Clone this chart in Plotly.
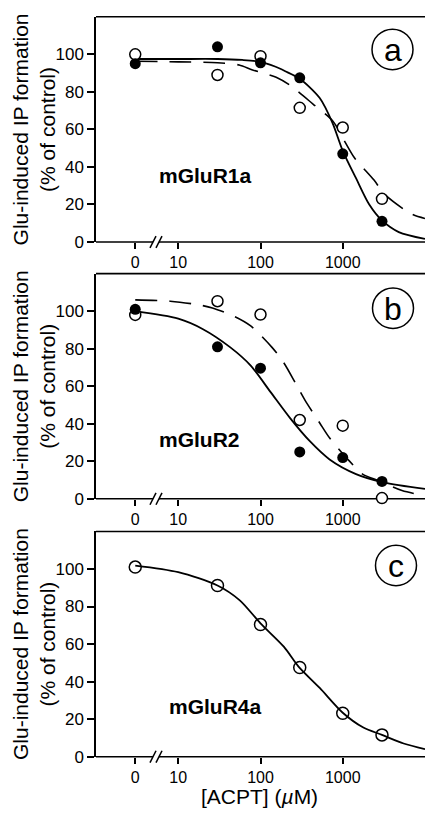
import plotly.graph_objects as go

# ---------------- data ----------------
# x positions (µM); the "0" control is plotted at the 3 µM position left of the axis break
conc = [3, 30, 100, 300, 1000, 3000]
x_tick_vals = [3, 10, 100, 1000]
x_tick_text = ["0", "10", "100", "1000"]
y_tick_vals = [0, 20, 40, 60, 80, 100]

a_filled = [95, 104, 95.5, 87.5, 47, 11]
a_open = [100, 89, 99, 71.5, 61, 23]
b_filled = [101, 81, 69.6, 25, 22, 9.3]
b_open = [98, 105.3, 98.2, 42, 39, 0.4]
c_open = [101, 91.2, 70.4, 47.5, 23.1, 11.6]

# fitted curves
a_solid_x = [3, 10, 30, 60, 100, 150, 200, 300, 525, 750, 1000, 1450, 2100, 3000, 4800, 10000]
a_solid_y = [97.5, 97.5, 97.5, 97, 96, 93.5, 91, 87, 76.7, 63.5, 48.6, 34, 20, 11.5, 5.3, 1.7]
a_dash_x = [3, 10, 30, 55, 80, 155, 225, 435, 760, 1050, 1380, 2400, 3200, 6800, 10000]
a_dash_y = [96.3, 96, 95.5, 94.3, 91.7, 87.8, 83.7, 73.5, 64.4, 53.8, 45, 33, 25.6, 15, 12.5]
b_solid_x = [3, 10, 20, 43, 76, 132, 229, 398, 692, 1450, 3100, 10000]
b_solid_y = [100, 96, 90.4, 80.7, 71, 57, 43, 30.7, 21, 13.2, 8.8, 5.3]
b_dash_x = [3, 8, 17, 26, 49, 76, 138, 190, 275, 347, 525, 690, 1200, 1740, 2750, 5250, 10000]
b_dash_y = [106, 105.3, 103.5, 101.7, 97, 92.1, 80.7, 72.8, 60.5, 52.6, 40.4, 32.5, 20.2, 13.2, 9.6, 4.4, 1.7]
c_solid_x = [3, 10, 30, 56, 100, 192, 290, 525, 1000, 1780, 3000, 5500, 10000]
c_solid_y = [101.8, 98.3, 91.2, 83.3, 71, 58.6, 48, 36.6, 23.4, 15.5, 11.6, 7, 4]

panel_names = ["mGluR1a", "mGluR2", "mGluR4a"]
panel_letters = ["a", "b", "c"]
y_title = "Glu-induced IP formation<br>(% of control)"
x_title = "[ACPT] (<i>µ</i>M)"

# ---------------- layout geometry (pixels) ----------------
W, H = 425, 819
LEFT, RIGHT = 96, 425
panel_px = [(17, 245), (277, 505), (538, 766)]  # (top, bottom axis)
circle_px = [(392.5, 50, 20.5), (393, 312, 20.5), (396, 572.5, 20.5)]
name_pos = [(1.33, 35.3), (1.26, 31.6), (1.45, 26.8)]  # (log10 x, y) in data coords

FONT = "Liberation Sans, Arial, Helvetica, sans-serif"


def px_x(p):
    return p / W


def px_y(p):
    return 1 - p / H


fig = go.Figure()

line_solid = dict(color="black", width=1.8, shape="spline", smoothing=0.8)
line_dash = dict(color="black", width=1.6, dash="22px,12px", shape="spline", smoothing=0.8)
m_filled = dict(symbol="circle", size=11, color="black")
m_open = dict(symbol="circle", size=11, color="white", line=dict(color="black", width=1.5))
m_open_c = dict(symbol="circle-open", size=12, color="black", line=dict(color="black", width=1.5))

traces = [
    # panel a
    (1, a_dash_x, a_dash_y, "lines", line_dash, None),
    (1, a_solid_x, a_solid_y, "lines", line_solid, None),
    (1, conc, a_open, "markers", None, m_open),
    (1, conc, a_filled, "markers", None, m_filled),
    # panel b
    (2, b_dash_x, b_dash_y, "lines", line_dash, None),
    (2, b_solid_x, b_solid_y, "lines", line_solid, None),
    (2, conc, b_open, "markers", None, m_open),
    (2, conc, b_filled, "markers", None, m_filled),
    # panel c
    (3, c_solid_x, c_solid_y, "lines", line_solid, None),
    (3, conc, c_open, "markers", None, m_open_c),
]

for k, xs, ys, mode, ln, mk in traces:
    sfx = "" if k == 1 else str(k)
    kw = dict(x=xs, y=ys, mode=mode, xaxis="x" + sfx, yaxis="y" + sfx,
              showlegend=False, hoverinfo="skip", cliponaxis=False)
    if ln is not None:
        kw["line"] = ln
    if mk is not None:
        kw["marker"] = mk
    fig.add_trace(go.Scatter(**kw))

shapes = []
annotations = []
layout_axes = {}

for i, (top, bot) in enumerate(panel_px):
    k = i + 1
    sfx = "" if k == 1 else str(k)
    ydom = [px_y(bot), px_y(top)]
    layout_axes["xaxis" + sfx] = dict(
        domain=[px_x(LEFT), 1], type="log", range=[0, 4], anchor="y" + sfx,
        tickvals=x_tick_vals, ticktext=x_tick_text, ticks="outside", ticklen=6,
        tickwidth=1.5, tickcolor="black", showline=False, showgrid=False,
        zeroline=False, tickfont=dict(family=FONT, size=16, color="black"),
        layer="below traces", fixedrange=True,
    )
    layout_axes["yaxis" + sfx] = dict(
        domain=ydom, range=[0, 120], anchor="x" + sfx,
        tickvals=y_tick_vals, ticks="outside", ticklen=7, tickwidth=1.5,
        tickcolor="black", showline=True, linewidth=1.5, linecolor="black",
        showgrid=False, zeroline=False,
        tickfont=dict(family=FONT, size=17, color="black"),
        layer="below traces", fixedrange=True,
    )
    # bottom axis line with a break
    yb = px_y(bot)
    shapes.append(dict(type="line", xref="paper", yref="paper", x0=px_x(LEFT), x1=px_x(153),
                       y0=yb, y1=yb, line=dict(color="black", width=1.5), layer="below"))
    shapes.append(dict(type="line", xref="paper", yref="paper", x0=px_x(159), x1=1,
                       y0=yb, y1=yb, line=dict(color="black", width=1.5), layer="below"))
    for cx in (153, 159):
        shapes.append(dict(type="line", xref="paper", yref="paper",
                           x0=px_x(cx - 3), x1=px_x(cx + 3),
                           y0=px_y(bot + 6), y1=px_y(bot - 6),
                           line=dict(color="black", width=1.5)))
    # top border
    yt = px_y(top)
    shapes.append(dict(type="line", xref="paper", yref="paper", x0=px_x(LEFT), x1=1,
                       y0=yt, y1=yt, line=dict(color="black", width=1.6), layer="below"))
    # circled panel letter
    cx, cy, r = circle_px[i]
    shapes.append(dict(type="circle", xref="paper", yref="paper",
                       x0=px_x(cx - r), x1=px_x(cx + r), y0=px_y(cy + r), y1=px_y(cy - r),
                       line=dict(color="black", width=1.5)))
    annotations.append(dict(text=panel_letters[i], xref="paper", yref="paper",
                            x=px_x(cx), y=px_y(cy + 1), xanchor="center", yanchor="middle",
                            showarrow=False, font=dict(family=FONT, size=32, color="black")))
    # receptor name
    nx, ny = name_pos[i]
    annotations.append(dict(text="<b>" + panel_names[i] + "</b>", xref="x" + sfx, yref="y" + sfx,
                            x=nx, y=ny, xanchor="center", yanchor="middle", showarrow=False,
                            font=dict(family=FONT, size=21, color="black")))
    # y axis title
    annotations.append(dict(text=y_title, xref="paper", yref="paper", x=px_x(34),
                            y=px_y((top + bot) / 2), xanchor="center", yanchor="middle",
                            textangle=-90, showarrow=False,
                            font=dict(family=FONT, size=21, color="black")))

annotations.append(dict(text=x_title, xref="paper", yref="paper", x=px_x(259), y=px_y(806.5),
                        xanchor="center", yanchor="middle", showarrow=False,
                        font=dict(family=FONT, size=21, color="black")))

fig.update_layout(
    width=W, height=H, autosize=False,
    margin=dict(l=0, r=0, t=0, b=0, pad=0),
    paper_bgcolor="white", plot_bgcolor="white",
    shapes=shapes, annotations=annotations,
    font=dict(family=FONT, color="black"),
    **layout_axes,
)

fig.write_html(
    "out.html",
    config={"displayModeBar": False},
    post_script="document.body.style.margin='0';document.body.style.overflow='hidden';",
)
